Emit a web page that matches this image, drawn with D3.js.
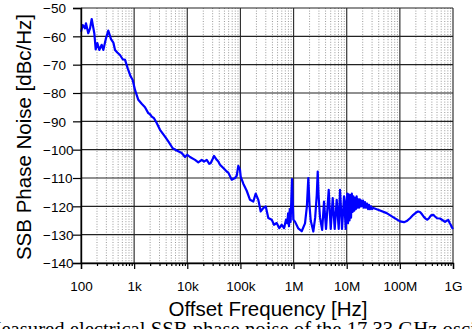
<!DOCTYPE html>
<html>
<head>
<meta charset="utf-8">
<script src="https://cdn.jsdelivr.net/npm/d3@7"></script>
<style>
  html, body { margin: 0; padding: 0; background: #fff; overflow: hidden; }
  svg { display: block; }
</style>
</head>
<body>
<svg id="chart" width="472" height="329"></svg>
<script>
// Offset frequency (Hz) of each measured point
const offsetHz = [
  100, 108, 119, 124, 137, 148, 159, 178, 189, 203, 221, 245, 263, 295, 326, 367, 406, 437, 482, 542,
  609, 674, 757, 862, 940, 1038, 1198, 1387, 1600, 1845, 1988, 2138, 2364, 2658, 3067, 3808, 4393, 5316, 6323, 7852,
  9060, 10010, 11250, 13980, 16120, 18680, 20640, 23200, 25970, 27500, 30000, 31830, 35780, 38340, 41280, 47620, 51270, 55180, 59140, 68530,
  79070, 85110, 91200, 98170, 101200, 113300, 131300, 151500, 174700, 193900, 217000, 240800, 269600, 299000, 334600, 387800, 428500, 481700, 539100, 598100,
  661000, 720800, 762600, 790000, 820000, 850000, 880000, 905000, 934800, 963400, 990000, 1.064e6, 1.228e6, 1.423e6, 1.642e6, 1.78e6, 1.894e6, 2.0e6, 2.102e6, 2.352e6,
  2.55e6, 2.73e6, 2.847e6, 2.95e6, 3.145e6, 3.45e6, 3.74e6, 4.08e6, 4.585e6, 5.0e6, 5.452e6, 5.946e6, 6.483e6, 7.07e6, 7.482e6, 8.158e6, 8.898e6, 9.58e6,
  9.91e6, 1.026e7, 1.058e7, 1.091e7, 1.129e7, 1.169e7, 1.205e7, 1.247e7, 1.291e7, 1.337e7, 1.384e7, 1.433e7, 1.483e7, 1.536e7, 1.590e7, 1.646e7,
  1.704e7, 1.764e7, 1.826e7, 1.891e7, 1.957e7, 2.027e7, 2.117e7, 2.210e7, 2.308e7, 2.410e7, 2.517e7, 2.628e7, 2.745e7, 2.866e7, 2.993e7, 3.167e7,
  4.234e7, 5.657e7, 7.434e7, 1.007e8, 1.198e8, 1.346e8, 1.553e8, 1.792e8, 2.014e8, 2.197e8, 2.395e8, 2.612e8, 2.849e8, 3.107e8, 3.286e8, 3.538e8,
  3.859e8, 4.262e8, 4.587e8, 5.004e8, 5.699e8, 6.490e8, 7.077e8, 7.718e8, 8.166e8, 8.60e8, 9.06e8, 9.59e8, 1e9
];

// SSB phase noise (dBc/Hz) at each offset
const phaseNoise = [
  -58.4, -56, -57.2, -55.4, -58.9, -57.2, -53.9, -58.9, -64.6, -62.4, -64.8, -63, -64.8, -60.7, -58, -61, -62.2, -64.8, -65.7, -66.6,
  -68.1, -68.3, -71.3, -74.2, -75.4, -78.9, -82.4, -83.8, -85, -87.1, -87.5, -88.3, -88.9, -90.6, -93, -95.4, -97.1, -99.5, -100.3, -101.2,
  -102.6, -101.8, -102.6, -103.6, -104.5, -103.6, -104.2, -103.6, -105, -104.8, -103.3, -102.2, -103.6, -104.2, -105.3, -106.5, -107.1, -107.7, -108.1, -110.6,
  -110, -109.2, -105.7, -107.1, -109.5, -112, -114.5, -117.7, -118.3, -115.5, -117.7, -121.8, -120.6, -120, -124.1, -124.7, -126.5, -125.9, -127.7, -126.5,
  -127.7, -124.7, -126, -122.5, -127, -121, -125.5, -118, -110.4, -118, -124.7, -125.4, -127.8, -128.8, -126, -120, -110, -120, -125, -128.9,
  -124, -116, -107.7, -116, -124, -128.3, -118.3, -128, -114.2, -128, -117.1, -128, -117.7, -128, -114.2, -128, -116.5, -128,
  -118, -115.5, -126, -115.8, -125, -116, -124, -115.5, -122, -116.5, -121.5, -117, -121, -116.5, -120.5, -117.5,
  -120.5, -117.5, -120, -118, -120, -118, -120.5, -118.5, -120.5, -119, -121, -119.5, -121, -120, -121, -120.6,
  -121.5, -122.4, -123.8, -125.3, -125.6, -125.2, -124.2, -123, -122.2, -121.8, -122, -122.8, -123.8, -124.5, -124.7, -124.2,
  -123.2, -123, -123.6, -124.2, -124.3, -125, -125.5, -125, -124.8, -125.8, -126.5, -127.5, -128
];

const yTickValues = [-50, -60, -70, -80, -90, -100, -110, -120, -130, -140];
const xTickValues = [1e2, 1e3, 1e4, 1e5, 1e6, 1e7, 1e8, 1e9];
const xTickLabels = ["100", "1k", "10k", "100k", "1M", "10M", "100M", "1G"];

const xTitle = "Offset Frequency [Hz]";
const yTitle = "SSB Phase Noise [dBc/Hz]";
const caption = "Measured electrical SSB phase noise of the 17.33 GHz oscillator";

const svg = d3.select("#chart");
const plot = { left: 81, right: 453, top: 8, bottom: 263 };

const x = d3.scaleLog().domain([1e2, 1e9]).range([plot.left, plot.right]);
const y = d3.scaleLinear().domain([-140, -50]).range([plot.bottom, plot.top]);

// minor decade positions (2..9 in each decade)
const minorValues = [];
for (let e = 2; e < 9; e++) for (let m = 2; m <= 9; m++) minorValues.push(m * Math.pow(10, e));

const grid = svg.append("g");
// dotted minor verticals
grid.selectAll("line.minor").data(minorValues).join("line")
  .attr("class", "minor")
  .attr("x1", d => x(d)).attr("x2", d => x(d))
  .attr("y1", plot.top).attr("y2", plot.bottom)
  .attr("stroke", "#9a9a9a").attr("stroke-width", 1)
  .attr("stroke-dasharray", "1,1.6");
// major verticals
grid.selectAll("line.vmaj").data(xTickValues).join("line")
  .attr("class", "vmaj")
  .attr("x1", d => x(d)).attr("x2", d => x(d))
  .attr("y1", plot.top).attr("y2", plot.bottom)
  .attr("stroke", "#333").attr("stroke-width", 1.2);
// major horizontals
grid.selectAll("line.hmaj").data(yTickValues).join("line")
  .attr("class", "hmaj")
  .attr("x1", plot.left).attr("x2", plot.right)
  .attr("y1", d => y(d)).attr("y2", d => y(d))
  .attr("stroke", "#222").attr("stroke-width", 1.2);

// noise curve
const pts = offsetHz.map((f, i) => [f, phaseNoise[i]]);
svg.append("path")
  .datum(pts)
  .attr("fill", "none")
  .attr("stroke", "#0000ff")
  .attr("stroke-width", 2.2)
  .attr("stroke-linejoin", "round")
  .attr("d", d3.line().x(d => x(d[0])).y(d => y(d[1])));

const tickFont = "Liberation Sans, Arial, sans-serif";

// bottom axis: major ticks with labels
const xAxis = svg.append("g").attr("transform", `translate(0,${plot.bottom})`)
  .call(d3.axisBottom(x).tickValues(xTickValues).tickSize(6).tickPadding(12)
    .tickFormat((d, i) => xTickLabels[i]));
// bottom axis: minor ticks
const xMinor = svg.append("g").attr("transform", `translate(0,${plot.bottom})`)
  .call(d3.axisBottom(x).tickValues(minorValues).tickSize(3).tickFormat(""));
xMinor.select(".domain").remove();

// left axis
const yAxis = svg.append("g").attr("transform", `translate(${plot.left},0)`)
  .call(d3.axisLeft(y).tickValues(yTickValues).tickSize(8).tickFormat(d3.format("d")));
yAxis.selectAll("text").attr("text-anchor", "start").attr("x", -38).attr("dy", "0.35em");

[xAxis, xMinor, yAxis].forEach(g => {
  g.selectAll("line").attr("stroke", "#000").attr("stroke-width", 1.2);
  g.select(".domain").attr("stroke", "#000").attr("stroke-width", 1.4);
  g.selectAll("text").attr("fill", "#000").style("font-family", tickFont).style("font-size", "13.5px");
});

// axis titles
svg.append("text")
  .attr("x", 268).attr("y", 316)
  .attr("text-anchor", "middle")
  .style("font-family", tickFont).style("font-size", "20.5px")
  .text(xTitle);
svg.append("text")
  .attr("transform", "translate(31,137) rotate(-90)")
  .attr("text-anchor", "middle")
  .style("font-family", tickFont).style("font-size", "20.5px")
  .text(yTitle);

// figure caption below the chart
svg.append("text")
  .attr("x", -17).attr("y", 336)
  .style("font-family", "Liberation Serif, Times New Roman, serif").style("font-size", "20.7px")
  .text(caption);
</script>
</body>
</html>
